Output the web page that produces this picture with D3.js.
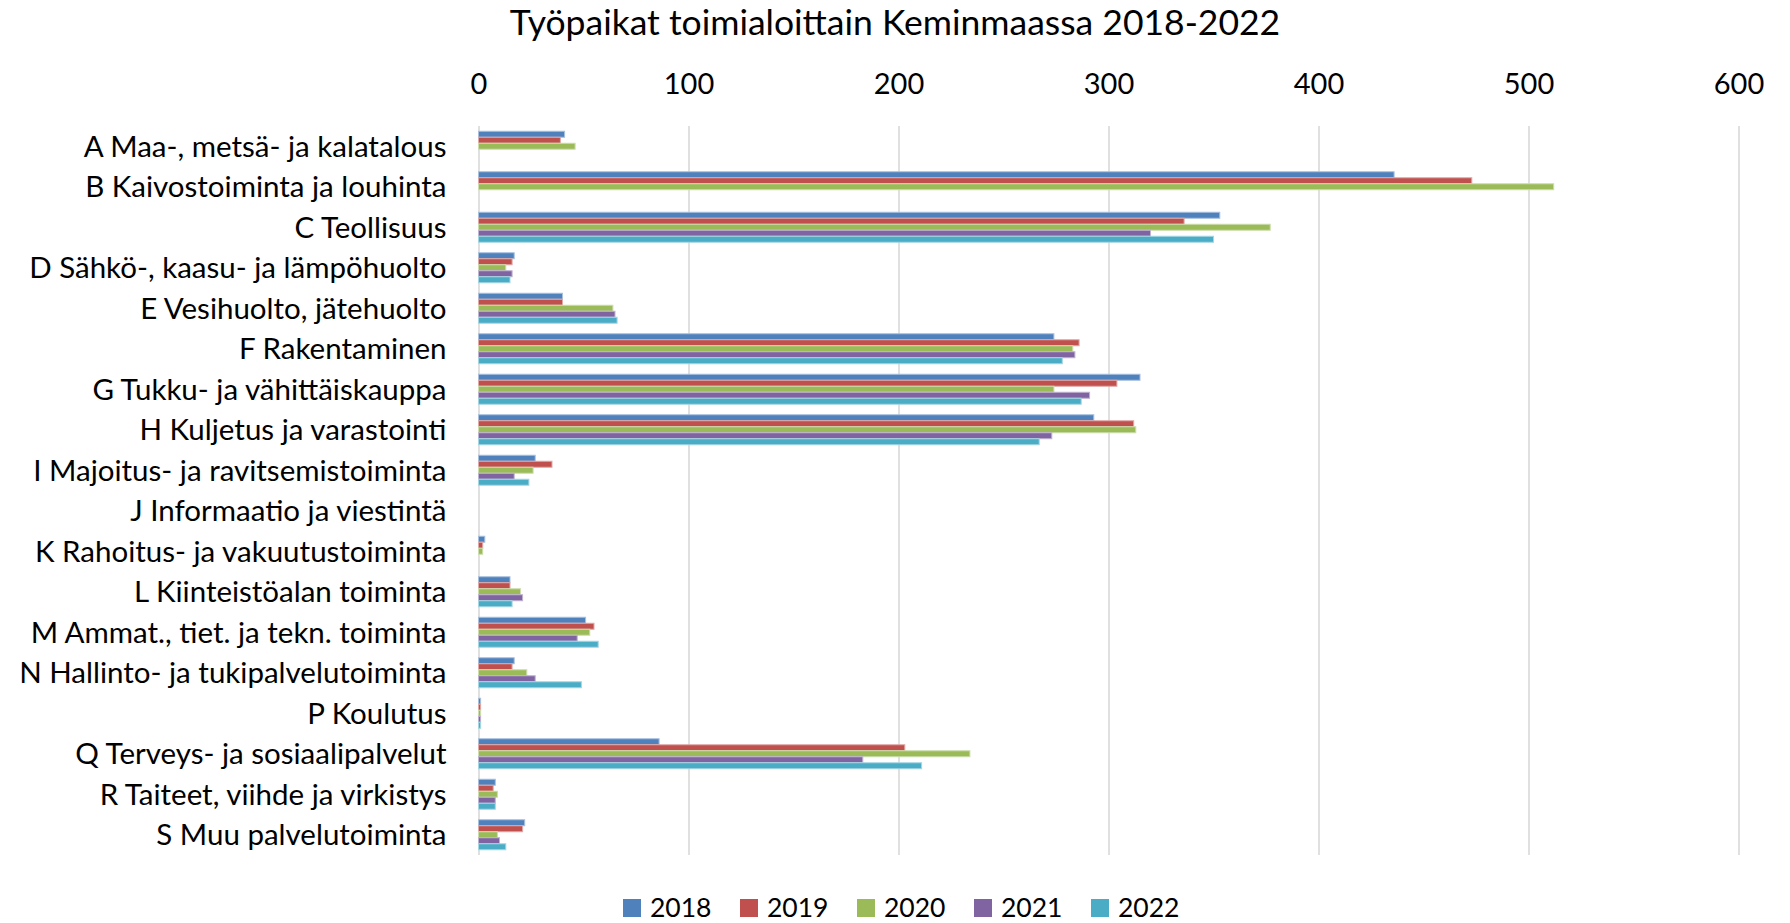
<!DOCTYPE html>
<html>
<head>
<meta charset="utf-8">
<script src="https://cdn.jsdelivr.net/npm/d3@7"></script>
<style>
  html, body { margin: 0; padding: 0; background: #ffffff; }
  svg { display: block; }
  text { font-family: Lato, "Open Sans", sans-serif; fill: #000; }
</style>
</head>
<body>
<svg id="chart" width="1790" height="923"></svg>
<script>
const title = "Työpaikat toimialoittain Keminmaassa 2018-2022";
const categories = [
  "A Maa-, metsä- ja kalatalous",
  "B Kaivostoiminta ja louhinta",
  "C Teollisuus",
  "D Sähkö-, kaasu- ja lämpöhuolto",
  "E Vesihuolto, jätehuolto",
  "F Rakentaminen",
  "G Tukku- ja vähittäiskauppa",
  "H Kuljetus ja varastointi",
  "I Majoitus- ja ravitsemistoiminta",
  "J Informaatio ja viestintä",
  "K Rahoitus- ja vakuutustoiminta",
  "L Kiinteistöalan toiminta",
  "M Ammat., tiet. ja tekn. toiminta",
  "N Hallinto- ja tukipalvelutoiminta",
  "P Koulutus",
  "Q Terveys- ja sosiaalipalvelut",
  "R Taiteet, viihde ja virkistys",
  "S Muu palvelutoiminta"
];
const years = ["2018", "2019", "2020", "2021", "2022"];
const v2018 = [41, 436, 353, 17, 40, 274, 315, 293, 27, null, 3, 15, 51, 17, 1, 86, 8, 22];
const v2019 = [39, 473, 336, 16, 40, 286, 304, 312, 35, null, 2, 15, 55, 16, 1, 203, 7, 21];
const v2020 = [46, 512, 377, 13, 64, 283, 274, 313, 26, null, 2, 20, 53, 23, 1, 234, 9, 9];
const v2021 = [null, null, 320, 16, 65, 284, 291, 273, 17, null, null, 21, 47, 27, 1, 183, 8, 10];
const v2022 = [null, null, 350, 15, 66, 278, 287, 267, 24, null, null, 16, 57, 49, 1, 211, 8, 13];
const tickValues = [0, 100, 200, 300, 400, 500, 600];
const colors = ["#4F81BD", "#C0504D", "#9BBB59", "#8064A2", "#4BACC6"];

const seriesValues = [v2018, v2019, v2020, v2021, v2022];
const rows = [];
categories.forEach((c, i) => {
  years.forEach((y, j) => {
    const v = seriesValues[j][i];
    if (v !== null && v !== undefined) rows.push({cat: c, year: y, value: v});
  });
});

const svg = d3.select("#chart");
const x = d3.scaleLinear().domain([0, 600]).range([478.5, 1738.5]);
const y = d3.scaleBand().domain(categories).range([126, 855]).paddingInner(0).paddingOuter(0);
const yi = d3.scaleBand().domain(years).range([0, y.bandwidth()]).paddingInner(0).paddingOuter(0.875);
const color = d3.scaleOrdinal().domain(years).range(colors);

// title
svg.append("text")
  .attr("x", 895).attr("y", 35)
  .attr("text-anchor", "middle")
  .style("font-size", "35.5px")
  .text(title);

// top axis labels
const axis = d3.axisTop(x).tickValues(tickValues).tickSize(0).tickPadding(0).tickFormat(d3.format("d"));
const gAxis = svg.append("g").attr("transform", "translate(0,94)").call(axis);
gAxis.select(".domain").remove();
gAxis.selectAll("text").style("font-size", "29px").style("font-family", "Lato, sans-serif").attr("fill", "#000").attr("dy", 0);

// gridlines
const grid = d3.axisTop(x).tickValues(tickValues).tickSize(-(855 - 126)).tickFormat("");
const gGrid = svg.append("g").attr("transform", "translate(0,126)").call(grid);
gGrid.select(".domain").remove();
gGrid.selectAll("line").attr("stroke", "#D9D9D9").attr("stroke-width", 1.6);

// bars
svg.append("g").selectAll("rect")
  .data(rows)
  .join("rect")
  .attr("x", x(0))
  .attr("y", d => y(d.cat) + yi(d.year))
  .attr("width", d => x(d.value) - x(0))
  .attr("height", yi.bandwidth())
  .attr("fill", d => color(d.year))
  .attr("stroke", d => d3.interpolateRgb(color(d.year), "#ffffff")(0.5))
  .attr("stroke-width", 1);

// category labels
const yAxis = d3.axisLeft(y).tickSize(0).tickPadding(0);
const gY = svg.append("g").attr("transform", "translate(446.5,0)").call(yAxis);
gY.select(".domain").remove();
gY.selectAll("text").style("font-size", "29.5px").style("font-family", "Lato, sans-serif").attr("fill", "#000").attr("dy", "0.36em");

// legend
const legend = svg.append("g");
const lg = legend.selectAll("g").data(years).join("g")
  .attr("transform", (d, i) => `translate(${623 + i * 117},899)`);
lg.append("rect").attr("width", 18).attr("height", 18).attr("fill", d => color(d));
lg.append("text").attr("x", 27).attr("y", 17.5).style("font-size", "26.5px").text(d => d);
</script>
</body>
</html>
